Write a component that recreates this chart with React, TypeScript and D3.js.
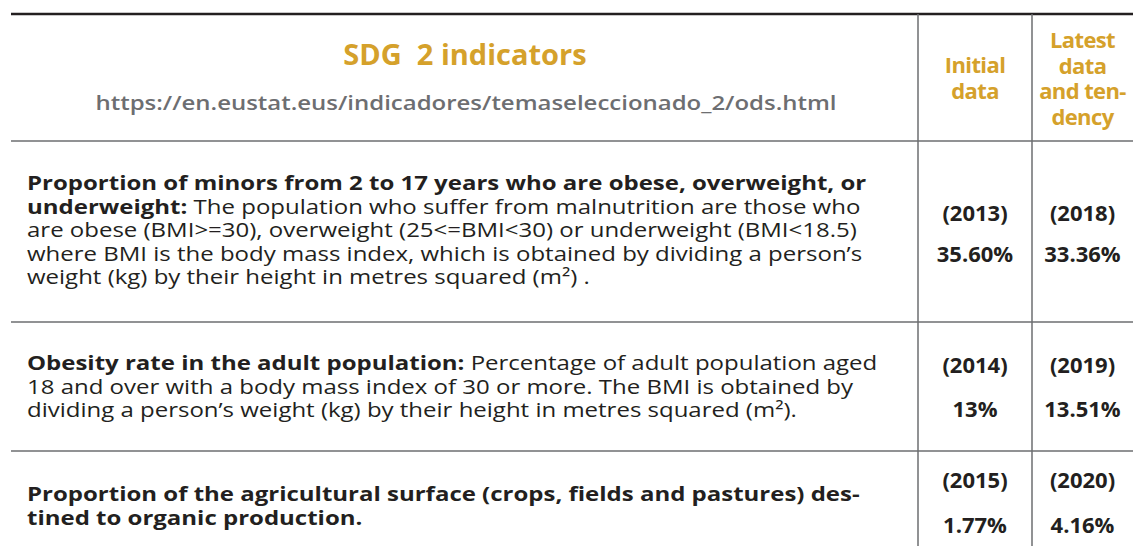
import React from "react";
import * as d3 from "d3";

// ---------- data ----------
const titleText = "SDG  2 indicators";
const sourceUrl = "https://en.eustat.eus/indicadores/temaseleccionado_2/ods.html";
const columnHeaders = [["Initial", "data"], ["Latest", "data", "and ten-", "dency"]];

type Seg = { t: string; b?: boolean };
const indicatorLines: Seg[][][] = [
  [
    [{ t: "Proportion of minors from 2 to 17 years who are obese, overweight, or", b: true }],
    [{ t: "underweight:", b: true }, { t: " The population who suffer from malnutrition are those who" }],
    [{ t: "are obese (BMI>=30), overweight (25<=BMI<30) or underweight (BMI<18.5)" }],
    [{ t: "where BMI is the body mass index, which is obtained by dividing a person’s" }],
    [{ t: "weight (kg) by their height in metres squared (m²) ." }],
  ],
  [
    [{ t: "Obesity rate in the adult population:", b: true }, { t: " Percentage of adult population aged" }],
    [{ t: "18 and over with a body mass index of 30 or more. The BMI is obtained by" }],
    [{ t: "dividing a person’s weight (kg) by their height in metres squared (m²)." }],
  ],
  [
    [{ t: "Proportion of the agricultural surface (crops, fields and pastures) des-", b: true }],
    [{ t: "tined to organic production.", b: true }],
  ],
];
const initialYears = ["(2013)", "(2014)", "(2015)"];
const initialValues = ["35.60%", "13%", "1.77%"];
const latestYears = ["(2018)", "(2019)", "(2020)"];
const latestValues = ["33.36%", "13.51%", "4.16%"];

// ---------- layout ----------
const W = 1133, H = 546;
const GOLD = "#D5A12B";
const DARK = "#231F20";
const GREY = "#6D6E71";
const FONT = "'Open Sans', 'Noto Sans', sans-serif";
const STRETCH = 1.2;

const x = d3.scaleLinear().domain([0, 1]).range([11, W]);
const colEdges = [11, 918, 1032, W];
const rowEdges = [14, 141, 322, 451, H];
const firstBaselines = [190, 370, 501];
const lineStep = [23.5, 23.5, 24];
const valueBaselines = [[221, 262], [373, 417], [488, 533]];
const colCenter = (i: number) => (colEdges[i] + colEdges[i + 1]) / 2;

export default function App() {
  return (
    <div style={{ position: "absolute", left: 0, top: 0 }}>
      <svg width={W} height={H} style={{ display: "block", fontFamily: FONT }}>
        <rect width={W} height={H} fill="#fff" />
        {/* lines */}
        <line x1={x(0)} x2={x(1)} y1={rowEdges[0]} y2={rowEdges[0]} stroke={DARK} strokeWidth={2.5} />
        {rowEdges.slice(1, 4).map((y, i) => (
          <line key={i} x1={x(0)} x2={x(1)} y1={y} y2={y} stroke={GREY} strokeWidth={1.5} />
        ))}
        {colEdges.slice(1, 3).map((cx, i) => (
          <line key={i} x1={cx} x2={cx} y1={rowEdges[0]} y2={H} stroke={GREY} strokeWidth={1.5} />
        ))}
        {/* header */}
        <text x={465} y={65} textAnchor="middle" fill={GOLD} fontSize={29} fontWeight={700} style={{ whiteSpace: "pre" }}>
          {titleText}
        </text>
        <text transform={`translate(466,110) scale(1.17,1)`} x={0} y={0} textAnchor="middle" fill={GREY} fontSize={20.5} fontWeight={600}>
          {sourceUrl}
        </text>
        {columnHeaders.map((lines, ci) => {
          const lh = 25.5;
          const startY = ci === 0 ? 73 : 48;
          return (
            <text key={ci} textAnchor="middle" fill={GOLD} fontSize={22} fontWeight={700} letterSpacing={-0.6}>
              {lines.map((l, li) => (
                <tspan key={li} x={colCenter(ci + 1)} y={startY + li * lh}>{l}</tspan>
              ))}
            </text>
          );
        })}
        {/* rows */}
        {indicatorLines.map((lines, ri) => (
          <g key={ri}>
            {lines.map((segs, li) => (
              <text key={li} transform={`translate(27,${firstBaselines[ri] + li * lineStep[ri]}) scale(${STRETCH},1)`} x={0} y={0} fill={DARK} fontSize={20} style={{ whiteSpace: "pre" }}>
                {segs.map((s, si) => (
                  <tspan key={si} fontWeight={s.b ? 700 : 400}>{s.t}</tspan>
                ))}
              </text>
            ))}
            {[initialYears, latestYears].map((arr, ci) => (
              <text key={"y" + ci} x={colCenter(ci + 1)} y={valueBaselines[ri][0]} textAnchor="middle" fill={DARK} fontSize={22} fontWeight={700}>
                {arr[ri]}
              </text>
            ))}
            {[initialValues, latestValues].map((arr, ci) => (
              <text key={"v" + ci} x={colCenter(ci + 1)} y={valueBaselines[ri][1]} textAnchor="middle" fill={DARK} fontSize={22} fontWeight={700}>
                {arr[ri]}
              </text>
            ))}
          </g>
        ))}
      </svg>
    </div>
  );
}
